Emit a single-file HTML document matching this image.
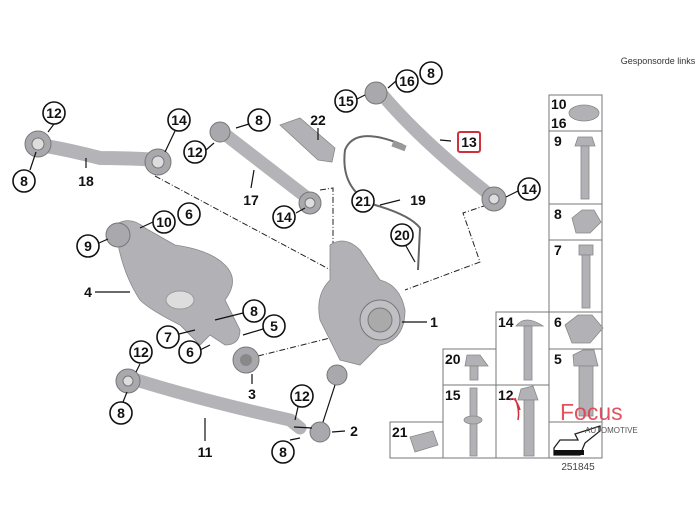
<!DOCTYPE html>
<html><head><meta charset="utf-8"><style>
body{margin:0;background:#fff}
svg{display:block}
.c circle{fill:#fff;stroke:#111;stroke-width:1.6}
.c text,.t{font-family:"Liberation Sans",sans-serif;font-weight:bold;font-size:14px;fill:#111;text-anchor:middle}
.l{stroke:#111;stroke-width:1.2;fill:none}
.d{stroke:#222;stroke-width:1;fill:none;stroke-dasharray:6 2 1 2}
.arm{stroke:#b4b4b8;fill:none;stroke-linecap:round;stroke-linejoin:round}
.bush{fill:#a9a9ad;stroke:#777;stroke-width:1}
.g{stroke:#555;stroke-width:1;fill:none}
.part{fill:#b2b2b6;stroke:#888;stroke-width:.8}
</style></head><body>
<svg width="700" height="525" viewBox="0 0 700 525">
<text x="658" y="64" font-family="Liberation Sans,sans-serif" font-size="9" fill="#333" text-anchor="middle">Gesponsorde links</text>

<!-- dashed leaders -->
<polyline class="d" points="155,176 340,275"/>
<polyline class="d" points="320,190 333,188 333,255 340,262"/>
<polyline class="d" points="487,205 463,213 480,262 405,290"/>
<polyline class="d" points="258,356 338,336"/>

<!-- arm 18 -->
<path class="arm" d="M40,145 Q70,150 100,158 Q130,158 158,160" stroke-width="14"/>
<circle class="bush" cx="38" cy="144" r="13"/><circle cx="38" cy="144" r="6" fill="#ddd" stroke="#777"/>
<circle class="bush" cx="158" cy="162" r="13"/><circle cx="158" cy="162" r="6" fill="#ddd" stroke="#777"/>
<!-- arm 17 -->
<path class="arm" d="M222,132 L310,200" stroke-width="13"/>
<circle class="bush" cx="220" cy="132" r="10"/>
<circle class="bush" cx="310" cy="203" r="11"/><circle cx="310" cy="203" r="5" fill="#ddd" stroke="#777"/>
<!-- 22 bracket -->
<path class="part" d="M280,125 L300,118 L335,148 L332,162 L318,160 Z"/>
<!-- arm 13 -->
<path class="arm" d="M380,92 Q420,140 490,195" stroke-width="13"/>
<circle class="bush" cx="376" cy="93" r="11"/>
<circle class="bush" cx="494" cy="199" r="12"/><circle cx="494" cy="199" r="5" fill="#ddd" stroke="#777"/>
<!-- sensor 19 -->
<path d="M403,145 Q355,125 345,150 Q340,190 375,205 Q410,215 420,228 L418,270" stroke="#666" stroke-width="2" fill="none"/>
<rect x="392" y="143" width="14" height="6" fill="#999" transform="rotate(20 399 146)"/>
<!-- wishbone 4 -->
<path class="part" d="M115,225 Q130,215 145,228 L175,245 Q210,250 225,265 Q240,280 225,300 L240,330 Q240,345 225,345 L210,335 L200,345 L180,325 Q150,310 140,300 Q120,270 115,225 Z"/>
<ellipse cx="180" cy="300" rx="14" ry="9" fill="#ddd" stroke="#999"/>
<circle class="bush" cx="118" cy="235" r="12"/>
<circle class="bush" cx="246" cy="360" r="13"/><circle cx="246" cy="360" r="6" fill="#888"/>
<!-- knuckle 1 -->
<path class="part" d="M330,245 Q345,235 360,250 L380,280 Q400,285 405,310 Q405,340 380,345 L360,365 L340,360 L320,320 Q315,295 330,280 Z"/>
<circle cx="380" cy="320" r="20" fill="#c0c0c4" stroke="#777"/>
<circle cx="380" cy="320" r="12" fill="#aaa" stroke="#777"/>
<circle class="bush" cx="337" cy="375" r="10"/>
<!-- arm 11 -->
<path class="arm" d="M130,378 Q200,400 290,420 L300,428" stroke-width="13"/>
<circle class="bush" cx="128" cy="381" r="12"/><circle cx="128" cy="381" r="5" fill="#ddd" stroke="#777"/>
<circle class="bush" cx="320" cy="432" r="10"/>

<!-- leader lines -->
<g class="l">
<line x1="54" y1="124" x2="48" y2="132"/><line x1="30" y1="170" x2="36" y2="152"/>
<line x1="86" y1="168" x2="86" y2="158"/><line x1="175" y1="131" x2="165" y2="152"/>
<line x1="249" y1="124" x2="236" y2="128"/><line x1="206" y1="150" x2="214" y2="143"/>
<line x1="251" y1="188" x2="254" y2="170"/><line x1="296" y1="213" x2="305" y2="208"/>
<line x1="318" y1="128" x2="318" y2="140"/><line x1="400" y1="200" x2="380" y2="205"/>
<line x1="396" y1="81" x2="388" y2="88"/><line x1="357" y1="99" x2="365" y2="95"/>
<line x1="451" y1="141" x2="440" y2="140"/><line x1="518" y1="191" x2="506" y2="197"/>
<line x1="153" y1="222" x2="140" y2="228"/><line x1="99" y1="243" x2="108" y2="239"/>
<line x1="406" y1="246" x2="415" y2="262"/><line x1="95" y1="292" x2="130" y2="292"/>
<line x1="427" y1="322" x2="402" y2="322"/><line x1="243" y1="313" x2="215" y2="320"/>
<line x1="263" y1="329" x2="243" y2="335"/><line x1="179" y1="334" x2="195" y2="330"/>
<line x1="200" y1="350" x2="210" y2="345"/><line x1="252" y1="384" x2="252" y2="374"/>
<line x1="140" y1="364" x2="136" y2="372"/><line x1="123" y1="402" x2="127" y2="392"/>
<line x1="205" y1="441" x2="205" y2="418"/><line x1="298" y1="407" x2="295" y2="420"/>
<line x1="294" y1="427" x2="312" y2="428"/><line x1="290" y1="440" x2="300" y2="438"/>
<line x1="345" y1="431" x2="332" y2="432"/><line x1="323" y1="422" x2="335" y2="385"/>
</g>

<!-- callouts -->
<g class="c">
<g transform="translate(407,81)"><circle r="11"/><text y="5">16</text></g>
<g transform="translate(431,73)"><circle r="11"/><text y="5">8</text></g>
<g transform="translate(346,101)"><circle r="11"/><text y="5">15</text></g>
<g transform="translate(529,189)"><circle r="11"/><text y="5">14</text></g>
<g transform="translate(54,113)"><circle r="11"/><text y="5">12</text></g>
<g transform="translate(179,120)"><circle r="11"/><text y="5">14</text></g>
<g transform="translate(24,181)"><circle r="11"/><text y="5">8</text></g>
<g transform="translate(259,120)"><circle r="11"/><text y="5">8</text></g>
<g transform="translate(195,152)"><circle r="11"/><text y="5">12</text></g>
<g transform="translate(284,217)"><circle r="11"/><text y="5">14</text></g>
<g transform="translate(363,201)"><circle r="11"/><text y="5">21</text></g>
<g transform="translate(164,222)"><circle r="11"/><text y="5">10</text></g>
<g transform="translate(189,214)"><circle r="11"/><text y="5">6</text></g>
<g transform="translate(88,246)"><circle r="11"/><text y="5">9</text></g>
<g transform="translate(402,235)"><circle r="11"/><text y="5">20</text></g>
<g transform="translate(254,311)"><circle r="11"/><text y="5">8</text></g>
<g transform="translate(274,326)"><circle r="11"/><text y="5">5</text></g>
<g transform="translate(168,337)"><circle r="11"/><text y="5">7</text></g>
<g transform="translate(190,352)"><circle r="11"/><text y="5">6</text></g>
<g transform="translate(141,352)"><circle r="11"/><text y="5">12</text></g>
<g transform="translate(121,413)"><circle r="11"/><text y="5">8</text></g>
<g transform="translate(302,396)"><circle r="11"/><text y="5">12</text></g>
<g transform="translate(283,452)"><circle r="11"/><text y="5">8</text></g>
</g>
<rect x="458" y="132" width="22" height="20" fill="#fff" stroke="#d0303a" stroke-width="2" rx="2"/>
<text class="t" x="469" y="147">13</text>
<text class="t" x="86" y="186">18</text><text class="t" x="318" y="125">22</text>
<text class="t" x="251" y="205">17</text><text class="t" x="418" y="205">19</text>
<text class="t" x="88" y="297">4</text><text class="t" x="434" y="327">1</text>
<text class="t" x="252" y="399">3</text><text class="t" x="354" y="436">2</text>
<text class="t" x="205" y="457">11</text>

<!-- parts table -->
<g stroke="#777" stroke-width="1" fill="none">
<rect x="549" y="95" width="53" height="363"/>
<line x1="549" y1="131" x2="602" y2="131"/><line x1="549" y1="204" x2="602" y2="204"/>
<line x1="549" y1="240" x2="602" y2="240"/><line x1="549" y1="312" x2="602" y2="312"/>
<line x1="549" y1="349" x2="602" y2="349"/><line x1="549" y1="422" x2="602" y2="422"/>
<rect x="496" y="312" width="53" height="146"/><line x1="496" y1="385" x2="549" y2="385"/>
<rect x="443" y="349" width="53" height="109"/><line x1="443" y1="385" x2="496" y2="385"/>
<rect x="390" y="422" width="53" height="36"/>
</g>
<g font-family="Liberation Sans,sans-serif" font-weight="bold" font-size="14" fill="#111">
<text x="551" y="109">10</text><text x="551" y="128">16</text><text x="554" y="146">9</text>
<text x="554" y="219">8</text><text x="554" y="255">7</text><text x="554" y="327">6</text>
<text x="554" y="364">5</text><text x="498" y="327">14</text><text x="445" y="364">20</text>
<text x="445" y="400">15</text><text x="498" y="400">12</text><text x="392" y="437">21</text>
</g>
<!-- hardware -->
<g class="part">
<ellipse cx="584" cy="113" rx="15" ry="8"/>
<polygon points="578,137 592,137 595,146 575,146"/><rect x="581" y="146" width="8" height="53"/>
<polygon points="572,218 582,210 594,210 601,222 590,233 576,233"/>
<rect x="579" y="245" width="14" height="10"/><rect x="582" y="255" width="8" height="53"/>
<polygon points="565,325 578,315 592,315 603,328 590,343 572,343"/>
<polygon points="573,355 583,350 594,350 598,366 574,366"/><rect x="579" y="366" width="14" height="50"/>
<path d="M516,326 Q525,314 543,326 Z"/><rect x="524" y="326" width="8" height="54"/>
<polygon points="467,355 480,355 488,366 465,366"/><rect x="470" y="366" width="8" height="14"/>
<rect x="470" y="388" width="7" height="68"/><ellipse cx="473" cy="420" rx="9" ry="4"/>
<polygon points="521,389 533,386 538,400 518,400"/><rect x="524" y="400" width="10" height="56"/>
<polygon points="410,437 433,431 438,445 415,452"/>
</g>
<path d="M554,448 L560,440 L578,440 L575,434 L600,426 L600,431 L585,443 L580,455 L554,455 Z" fill="#fff" stroke="#222" stroke-width="1.3"/>
<rect x="554" y="450" width="30" height="5" fill="#111"/>
<text x="578" y="470" font-family="Liberation Sans,sans-serif" font-size="10" fill="#444" text-anchor="middle">251845</text>
<!-- watermark -->
<text x="560" y="420" font-family="Liberation Sans,sans-serif" font-size="23" fill="#e04050" opacity=".9">Focus</text>
<text x="585" y="433" font-family="Liberation Sans,sans-serif" font-size="8" fill="#555">AUTOMOTIVE</text>
<path d="M510,400 Q515,395 520,410 M515,398 Q520,410 518,420" stroke="#d03040" stroke-width="1.5" fill="none"/>
</svg>
</body></html>
